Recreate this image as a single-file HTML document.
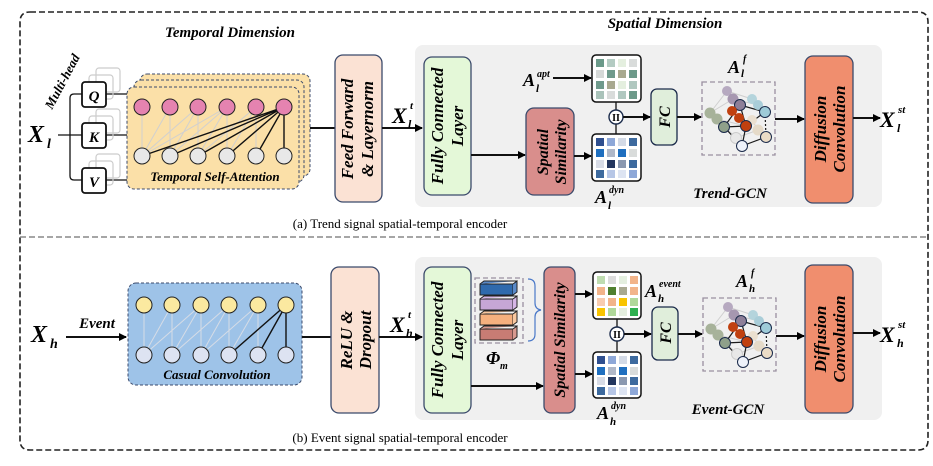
<!DOCTYPE html>
<html><head><meta charset="utf-8"><style>
body{margin:0;background:#fff}
svg{display:block;font-family:"Liberation Serif",serif}
.bi{font-weight:bold;font-style:italic}
.v{font-size:17px}
</style></head><body>
<svg width="933" height="466" viewBox="0 0 933 466" xmlns="http://www.w3.org/2000/svg">
<defs>
<marker id="ar" markerWidth="8" markerHeight="8" refX="7" refY="4" orient="auto" markerUnits="userSpaceOnUse"><path d="M0,0 L8,4 L0,8 Z" fill="#000"/></marker>
<g id="graph">
<rect x="702" y="82" width="73" height="73" fill="none" stroke="#9a8fa0" stroke-width="1.3" stroke-dasharray="5,3"/>
<g stroke="#cfcfcf" stroke-width="1" fill="none">
<path d="M727,91 L752,99 M710,113 L733,99 M710,113 L736,138 M717,119 L746,126 M727,91 L740,105 M733,99 L758,105 M752,120 L758,130 M736,138 L758,130 M717,119 L736,138 M710,113 L727,91 M752,99 L765,112"/>
</g>
<g stroke="#1a1a1a" stroke-width="1.2" fill="none">
<path d="M740,105 L765,112 M740,105 L724,127 M740,105 L746,126 M765,112 L746,126 M724,127 L746,126 M746,126 L742,146 M766,137 L742,146 M724,127 L742,146 M732,111 L739,118"/>
<path d="M765,112 L766,137" stroke-dasharray="2,2"/>
</g>
<g stroke-width="1">
<circle cx="727" cy="91" r="5" fill="#b6a9c0" stroke="none"/>
<circle cx="733" cy="99" r="5.5" fill="#a697b0" stroke="none"/>
<circle cx="752" cy="99" r="5" fill="#b4d4dc" stroke="none"/>
<circle cx="758" cy="105" r="5" fill="#a9cdd8" stroke="none"/>
<circle cx="710" cy="113" r="5.5" fill="#a7b29a" stroke="none"/>
<circle cx="717" cy="119" r="5.5" fill="#a7b29a" stroke="none"/>
<circle cx="752" cy="120" r="5" fill="#eadfcf" stroke="none"/>
<circle cx="758" cy="130" r="5.5" fill="#e5dac8" stroke="none"/>
<circle cx="736" cy="138" r="5.5" fill="#e8e8e8" stroke="#ccc"/>
<circle cx="740" cy="105" r="5.5" fill="#8e7f98" stroke="#1a2a4a"/>
<circle cx="765" cy="112" r="5.5" fill="#9ecbd8" stroke="#1a2a4a"/>
<circle cx="732" cy="111" r="5" fill="#c0400f" stroke="none"/>
<circle cx="739" cy="118" r="5" fill="#c0400f" stroke="none"/>
<circle cx="724" cy="127" r="5.5" fill="#8fa08a" stroke="#1a2a4a"/>
<circle cx="746" cy="126" r="5.5" fill="#c0400f" stroke="#1a2a4a"/>
<circle cx="766" cy="137" r="5.5" fill="#ebdcc6" stroke="#1a2a4a"/>
<circle cx="742" cy="146" r="5.5" fill="#eef2fa" stroke="#1a2a4a"/>
</g>
</g>
</defs>

<path d="M30,12 L918,12 Q928,12 928,22 L928,440 Q928,450 918,450 L30,450 Q20,450 20,440 L20,22 Q20,12 30,12" fill="none" stroke="#222" stroke-width="1.6" stroke-dasharray="6,3"/>
<line x1="20" y1="237" x2="928" y2="237" stroke="#888" stroke-width="1.4" stroke-dasharray="6,3"/>

<text x="230" y="37" font-size="15" class="bi" text-anchor="middle">Temporal  Dimension</text>
<text x="665" y="28" font-size="15" class="bi" text-anchor="middle">Spatial Dimension</text>

<rect x="415" y="45" width="467" height="162" rx="8" fill="#f0f0f0"/>

<text x="28" y="142" font-size="24" class="bi">X</text><text x="47" y="148" font-size="14" class="bi">l</text>
<text x="52" y="110" font-size="13" class="bi" transform="rotate(-62 52 110)">Multi-head</text>
<g stroke="#111" stroke-width="1.3" fill="none">
<path d="M58,135 L82,135 M82,94 L74,94 Q70,94 70,98 L70,176 Q70,180 74,180 L82,180"/>
<path d="M106,94 L128,94 M106,135 L128,135 M106,180 L128,180"/>
</g>
<g fill="none" stroke="#ccc" stroke-width="1.2">
<rect x="96" y="68" width="24" height="24" rx="3"/><rect x="89" y="75" width="24" height="24" rx="3"/>
<rect x="96" y="109" width="24" height="24" rx="3"/><rect x="89" y="116" width="24" height="24" rx="3"/>
<rect x="96" y="154" width="24" height="24" rx="3"/><rect x="89" y="161" width="24" height="24" rx="3"/>
</g>
<g fill="#fff" stroke="#111" stroke-width="1.8">
<rect x="82" y="82" width="24" height="25" rx="3"/>
<rect x="82" y="123" width="24" height="25" rx="3"/>
<rect x="82" y="168" width="24" height="25" rx="3"/>
</g>
<text x="94" y="101" font-size="15" class="bi" text-anchor="middle">Q</text>
<text x="94" y="142" font-size="15" class="bi" text-anchor="middle">K</text>
<text x="94" y="187" font-size="15" class="bi" text-anchor="middle">V</text>

<g fill="#fbe0a8" stroke="#3b4a6b" stroke-width="1" stroke-dasharray="3,2">
<rect x="140" y="74" width="170" height="102" rx="7"/>
<rect x="134" y="80" width="170" height="102" rx="7"/>
<rect x="127" y="87" width="172" height="102" rx="7"/>
</g>
<g stroke="#d0d0d0" stroke-width="1">
<path d="M142,156 L142,107 M142,156 L170,107 M142,156 L198,107 M170,156 L170,107 M170,156 L198,107 M170,156 L227,107 M198,156 L198,107 M198,156 L227,107 M198,156 L256,107 M227,156 L227,107 M227,156 L256,107 M256,156 L256,107 M142,156 L227,107"/>
</g>
<g stroke="#111" stroke-width="1.4">
<path d="M284,107 L142,156 M284,107 L170,156 M284,107 L198,156 M284,107 L227,156 M284,107 L256,156 M284,107 L284,156"/>
</g>
<g fill="#e583b0" stroke="#222" stroke-width="1">
<circle cx="142" cy="107" r="8"/><circle cx="170" cy="107" r="8"/><circle cx="198" cy="107" r="8"/><circle cx="227" cy="107" r="8"/><circle cx="256" cy="107" r="8"/><circle cx="284" cy="107" r="8"/>
</g>
<g fill="#e8e8e8" stroke="#222" stroke-width="1">
<circle cx="142" cy="156" r="8"/><circle cx="170" cy="156" r="8"/><circle cx="198" cy="156" r="8"/><circle cx="227" cy="156" r="8"/><circle cx="256" cy="156" r="8"/><circle cx="284" cy="156" r="8"/>
</g>
<text x="215" y="181" font-size="13" class="bi" text-anchor="middle">Temporal Self-Attention</text>

<line x1="310" y1="128" x2="335" y2="128" stroke="#111" stroke-width="2"/>
<rect x="335" y="55" width="47" height="147" rx="8" fill="#fbe2d4" stroke="#3b4a6b" stroke-width="1.3"/>
<text transform="translate(353,129) rotate(-90)" class="bi v" text-anchor="middle">Feed Forward</text>
<text transform="translate(373,129) rotate(-90)" class="bi v" text-anchor="middle">&amp; Layernorm</text>
<line x1="382" y1="128" x2="422" y2="128" stroke="#111" stroke-width="2" marker-end="url(#ar)"/>
<text x="392" y="123" font-size="22" class="bi">X</text><text x="410" y="109" font-size="11" class="bi">t</text><text x="408" y="128" font-size="12" class="bi">l</text>

<rect x="424" y="57" width="47" height="138" rx="8" fill="#e4f8d8" stroke="#3b4a6b" stroke-width="1.3"/>
<text transform="translate(443,126) rotate(-90)" class="bi v" text-anchor="middle">Fully Connected</text>
<text transform="translate(463,126) rotate(-90)" class="bi v" text-anchor="middle">Layer</text>
<line x1="471" y1="155" x2="525" y2="155" stroke="#111" stroke-width="2" marker-end="url(#ar)"/>
<rect x="526" y="108" width="48" height="87" rx="8" fill="#d98e8c" stroke="#3b4a6b" stroke-width="1.3"/>
<text transform="translate(548,152) rotate(-90)" font-size="16" class="bi" text-anchor="middle">Spatial</text>
<text transform="translate(566,152) rotate(-90)" font-size="16" class="bi" text-anchor="middle">Similarity</text>
<line x1="574" y1="156" x2="591" y2="156" stroke="#111" stroke-width="2" marker-end="url(#ar)"/>

<text x="523" y="86" font-size="18" class="bi">A</text><text x="537" y="77" font-size="10" class="bi">apt</text><text x="536" y="92" font-size="11" class="bi">l</text>
<line x1="553" y1="78" x2="591" y2="78" stroke="#111" stroke-width="2" marker-end="url(#ar)"/>

<rect x="592" y="55" width="49" height="47" rx="4" fill="#fff" stroke="#111" stroke-width="1.5"/>
<g>
<rect x="596" y="59" width="8" height="8" fill="#6b9a8a"/><rect x="607" y="59" width="8" height="8" fill="#b3cbc2"/><rect x="618" y="59" width="8" height="8" fill="#e4efdf"/><rect x="629" y="59" width="8" height="8" fill="#d9dcdb"/>
<rect x="596" y="70" width="8" height="8" fill="#d6d9d8"/><rect x="607" y="70" width="8" height="8" fill="#6f9a8c"/><rect x="618" y="70" width="8" height="8" fill="#a8a98f"/><rect x="629" y="70" width="8" height="8" fill="#6d9a8a"/>
<rect x="596" y="81" width="8" height="8" fill="#6f9a8c"/><rect x="607" y="81" width="8" height="8" fill="#a8a990"/><rect x="618" y="81" width="8" height="8" fill="#e4efdf"/><rect x="629" y="81" width="8" height="8" fill="#b0c8c0"/>
<rect x="596" y="91" width="8" height="8" fill="#aac3ba"/><rect x="607" y="91" width="8" height="8" fill="#d9dcdb"/><rect x="618" y="91" width="8" height="8" fill="#b0c8c0"/><rect x="629" y="91" width="8" height="8" fill="#6d9a8a"/>
</g>
<line x1="616" y1="102" x2="616" y2="134" stroke="#111" stroke-width="1.3"/>
<rect x="592" y="134" width="49" height="47" rx="4" fill="#fff" stroke="#111" stroke-width="1.5"/>
<g>
<rect x="596" y="138" width="8" height="8" fill="#2f4f8f"/><rect x="607" y="138" width="8" height="8" fill="#8ea8d8"/><rect x="618" y="138" width="8" height="8" fill="#d3dae6"/><rect x="629" y="138" width="8" height="8" fill="#3d6a9e"/>
<rect x="596" y="149" width="8" height="8" fill="#1f6fbf"/><rect x="607" y="149" width="8" height="8" fill="#b0b8c8"/><rect x="618" y="149" width="8" height="8" fill="#1f6fbf"/><rect x="629" y="149" width="8" height="8" fill="#d9dcdb"/>
<rect x="596" y="160" width="8" height="8" fill="#d8dce6"/><rect x="607" y="160" width="8" height="8" fill="#23365e"/><rect x="618" y="160" width="8" height="8" fill="#8a98b0"/><rect x="629" y="160" width="8" height="8" fill="#3d6a9e"/>
<rect x="596" y="170" width="8" height="8" fill="#3d6a9e"/><rect x="607" y="170" width="8" height="8" fill="#b6c6e6"/><rect x="618" y="170" width="8" height="8" fill="#dde4f2"/><rect x="629" y="170" width="8" height="8" fill="#8ea8d8"/>
</g>
<circle cx="616" cy="117" r="7" fill="#fff" stroke="#1a2a4a" stroke-width="1.4"/>
<text x="616" y="121" font-size="10" font-weight="bold" text-anchor="middle">II</text>
<line x1="623" y1="117" x2="650" y2="117" stroke="#111" stroke-width="2" marker-end="url(#ar)"/>
<text x="595" y="203" font-size="18" class="bi">A</text><text x="609" y="193" font-size="10" class="bi">dyn</text><text x="608" y="209" font-size="11" class="bi">l</text>

<rect x="651" y="89" width="26" height="56" rx="6" fill="#e0eedb" stroke="#1a2a4a" stroke-width="1.3"/>
<text transform="translate(670,117) rotate(-90)" font-size="16" class="bi" text-anchor="middle">FC</text>
<line x1="677" y1="117" x2="701" y2="117" stroke="#111" stroke-width="2" marker-end="url(#ar)"/>
<use href="#graph"/>
<text x="728" y="73" font-size="18" class="bi">A</text><text x="743" y="62" font-size="10" class="bi">f</text><text x="741" y="77" font-size="11" class="bi">l</text>
<line x1="775" y1="119" x2="804" y2="119" stroke="#111" stroke-width="2" marker-end="url(#ar)"/>
<text x="730" y="198" font-size="15" class="bi" text-anchor="middle">Trend-GCN</text>

<rect x="805" y="56" width="48" height="147" rx="8" fill="#f08e6e" stroke="#3b4a6b" stroke-width="1.3"/>
<text transform="translate(826,129) rotate(-90)" class="bi v" text-anchor="middle">Diffusion</text>
<text transform="translate(845,129) rotate(-90)" class="bi v" text-anchor="middle">Convolution</text>
<line x1="853" y1="118" x2="880" y2="118" stroke="#111" stroke-width="2" marker-end="url(#ar)"/>
<text x="880" y="127" font-size="22" class="bi">X</text><text x="898" y="113" font-size="11" class="bi">st</text><text x="897" y="132" font-size="12" class="bi">l</text>

<text x="400" y="228" font-size="13" text-anchor="middle">(a) Trend signal spatial-temporal encoder</text>

<rect x="415" y="257" width="467" height="163" rx="8" fill="#f0f0f0"/>
<text x="31" y="342" font-size="24" class="bi">X</text><text x="50" y="348" font-size="14" class="bi">h</text>
<text x="97" y="328" font-size="15" class="bi" text-anchor="middle">Event</text>
<line x1="66" y1="337" x2="126" y2="337" stroke="#111" stroke-width="2" marker-end="url(#ar)"/>

<rect x="128" y="283" width="174" height="102" rx="8" fill="#9ec3e8" stroke="#3b4a6b" stroke-width="1" stroke-dasharray="3,2"/>
<g stroke="#d6dce6" stroke-width="1">
<path d="M144,355 L144,305 M144,355 L172,305 M144,355 L201,305 M172,355 L172,305 M172,355 L201,305 M172,355 L229,305 M201,355 L201,305 M201,355 L229,305 M201,355 L258,305 M229,355 L229,305 M229,355 L258,305 M258,355 L258,305"/>
</g>
<g stroke="#111" stroke-width="1.4"><path d="M286,305 L229,355 M286,305 L258,355 M286,305 L286,355"/></g>
<g fill="#fbe9a0" stroke="#222" stroke-width="1">
<circle cx="144" cy="305" r="8"/><circle cx="172" cy="305" r="8"/><circle cx="201" cy="305" r="8"/><circle cx="229" cy="305" r="8"/><circle cx="258" cy="305" r="8"/><circle cx="286" cy="305" r="8"/>
</g>
<g fill="#dde3f2" stroke="#222" stroke-width="1">
<circle cx="144" cy="355" r="8"/><circle cx="172" cy="355" r="8"/><circle cx="201" cy="355" r="8"/><circle cx="229" cy="355" r="8"/><circle cx="258" cy="355" r="8"/><circle cx="286" cy="355" r="8"/>
</g>
<text x="217" y="379" font-size="13" class="bi" text-anchor="middle">Casual Convolution</text>

<line x1="302" y1="337" x2="331" y2="337" stroke="#111" stroke-width="2"/>
<rect x="331" y="267" width="48" height="146" rx="8" fill="#fbe2d4" stroke="#3b4a6b" stroke-width="1.3"/>
<text transform="translate(352,340) rotate(-90)" class="bi v" text-anchor="middle">ReLU &amp;</text>
<text transform="translate(371,340) rotate(-90)" class="bi v" text-anchor="middle">Dropout</text>
<line x1="379" y1="337" x2="422" y2="337" stroke="#111" stroke-width="2" marker-end="url(#ar)"/>
<text x="390" y="332" font-size="22" class="bi">X</text><text x="408" y="318" font-size="11" class="bi">t</text><text x="406" y="337" font-size="12" class="bi">h</text>

<rect x="424" y="267" width="47" height="146" rx="8" fill="#e4f8d8" stroke="#3b4a6b" stroke-width="1.3"/>
<text transform="translate(443,340) rotate(-90)" class="bi v" text-anchor="middle">Fully Connected</text>
<text transform="translate(463,340) rotate(-90)" class="bi v" text-anchor="middle">Layer</text>
<line x1="471" y1="386" x2="543" y2="386" stroke="#111" stroke-width="2" marker-end="url(#ar)"/>

<rect x="475" y="278" width="48" height="65" fill="none" stroke="#9a8fa0" stroke-width="1.3" stroke-dasharray="5,3"/>
<g stroke="#222" stroke-width="1">
<rect x="480" y="284" width="33" height="11" fill="#2f6aad"/><path d="M513,284 L517,281 L517,292 L513,295 M480,284 L484,281 L517,281" fill="#5a8ac8"/>
<rect x="480" y="299" width="33" height="11" fill="#c6a6d6"/><path d="M513,299 L517,296 L517,307 L513,310 M480,299 L484,296 L517,296" fill="#d6b6e6"/>
<rect x="480" y="314" width="33" height="11" fill="#f5b07e"/><path d="M513,314 L517,311 L517,322 L513,325 M480,314 L484,311 L517,311" fill="#f8c8a0"/>
<rect x="480" y="329" width="33" height="11" fill="#c87c74"/><path d="M513,329 L517,326 L517,337 L513,340 M480,329 L484,326 L517,326" fill="#d89a90"/>
</g>
<path d="M528,279 Q535,279 535,286 L535,303 Q535,309 541,310 Q535,311 535,317 L535,334 Q535,341 528,341" fill="none" stroke="#4a78c8" stroke-width="1.2"/>
<text x="486" y="364" font-size="18" class="bi">Φ</text><text x="500" y="369" font-size="10" class="bi">m</text>

<rect x="544" y="267" width="31" height="146" rx="7" fill="#d98e8c" stroke="#3b4a6b" stroke-width="1.3"/>
<text transform="translate(565,340) rotate(-90)" font-size="16" class="bi" text-anchor="middle">Spatial Similarity</text>
<line x1="575" y1="294" x2="592" y2="294" stroke="#111" stroke-width="2" marker-end="url(#ar)"/>
<line x1="575" y1="374" x2="592" y2="374" stroke="#111" stroke-width="2" marker-end="url(#ar)"/>

<rect x="593" y="272" width="48" height="47" rx="4" fill="#fff" stroke="#111" stroke-width="1.5"/>
<g>
<rect x="597" y="276" width="8" height="8" fill="#bfdcb0"/><rect x="608" y="276" width="8" height="8" fill="#dcdcdc"/><rect x="619" y="276" width="8" height="8" fill="#e4efdf"/><rect x="630" y="276" width="8" height="8" fill="#f2b48a"/>
<rect x="597" y="287" width="8" height="8" fill="#f2b48a"/><rect x="608" y="287" width="8" height="8" fill="#4f7f2f"/><rect x="619" y="287" width="8" height="8" fill="#a8a990"/><rect x="630" y="287" width="8" height="8" fill="#f2b48a"/>
<rect x="597" y="298" width="8" height="8" fill="#f8ccb0"/><rect x="608" y="298" width="8" height="8" fill="#f2b48a"/><rect x="619" y="298" width="8" height="8" fill="#f8c400"/><rect x="630" y="298" width="8" height="8" fill="#b0d89a"/>
<rect x="597" y="308" width="8" height="8" fill="#f8c400"/><rect x="608" y="308" width="8" height="8" fill="#b0d89a"/><rect x="619" y="308" width="8" height="8" fill="#e4efdf"/><rect x="630" y="308" width="8" height="8" fill="#2fb04f"/>
</g>
<line x1="617" y1="319" x2="617" y2="352" stroke="#111" stroke-width="1.3"/>
<rect x="593" y="352" width="48" height="46" rx="4" fill="#fff" stroke="#111" stroke-width="1.5"/>
<g>
<rect x="597" y="356" width="8" height="8" fill="#2f4f8f"/><rect x="608" y="356" width="8" height="8" fill="#8ea8d8"/><rect x="619" y="356" width="8" height="8" fill="#d3dae6"/><rect x="630" y="356" width="8" height="8" fill="#3d6a9e"/>
<rect x="597" y="367" width="8" height="8" fill="#1f6fbf"/><rect x="608" y="367" width="8" height="8" fill="#b0b8c8"/><rect x="619" y="367" width="8" height="8" fill="#1f6fbf"/><rect x="630" y="367" width="8" height="8" fill="#d9dcdb"/>
<rect x="597" y="377" width="8" height="8" fill="#d8dce6"/><rect x="608" y="377" width="8" height="8" fill="#23365e"/><rect x="619" y="377" width="8" height="8" fill="#8a98b0"/><rect x="630" y="377" width="8" height="8" fill="#3d6a9e"/>
<rect x="597" y="387" width="8" height="8" fill="#3d6a9e"/><rect x="608" y="387" width="8" height="8" fill="#b6c6e6"/><rect x="619" y="387" width="8" height="8" fill="#dde4f2"/><rect x="630" y="387" width="8" height="8" fill="#8ea8d8"/>
</g>
<circle cx="617" cy="334" r="7" fill="#fff" stroke="#1a2a4a" stroke-width="1.4"/>
<text x="617" y="338" font-size="10" font-weight="bold" text-anchor="middle">II</text>
<line x1="624" y1="334" x2="651" y2="334" stroke="#111" stroke-width="2" marker-end="url(#ar)"/>
<text x="645" y="297" font-size="18" class="bi">A</text><text x="659" y="287" font-size="10" class="bi">event</text><text x="658" y="302" font-size="11" class="bi">h</text>
<text x="597" y="419" font-size="18" class="bi">A</text><text x="611" y="409" font-size="10" class="bi">dyn</text><text x="610" y="425" font-size="11" class="bi">h</text>

<rect x="652" y="307" width="26" height="53" rx="6" fill="#e0eedb" stroke="#1a2a4a" stroke-width="1.3"/>
<text transform="translate(671,333) rotate(-90)" font-size="16" class="bi" text-anchor="middle">FC</text>
<line x1="678" y1="334" x2="702" y2="334" stroke="#111" stroke-width="2" marker-end="url(#ar)"/>
<use href="#graph" transform="translate(1,216)"/>
<text x="736" y="287" font-size="18" class="bi">A</text><text x="751" y="276" font-size="10" class="bi">f</text><text x="749" y="292" font-size="11" class="bi">h</text>
<line x1="776" y1="336" x2="804" y2="336" stroke="#111" stroke-width="2" marker-end="url(#ar)"/>
<text x="728" y="414" font-size="15" class="bi" text-anchor="middle">Event-GCN</text>

<rect x="805" y="265" width="48" height="148" rx="8" fill="#f08e6e" stroke="#3b4a6b" stroke-width="1.3"/>
<text transform="translate(826,339) rotate(-90)" class="bi v" text-anchor="middle">Diffusion</text>
<text transform="translate(845,339) rotate(-90)" class="bi v" text-anchor="middle">Convolution</text>
<line x1="853" y1="333" x2="880" y2="333" stroke="#111" stroke-width="2" marker-end="url(#ar)"/>
<text x="880" y="342" font-size="22" class="bi">X</text><text x="898" y="328" font-size="11" class="bi">st</text><text x="897" y="347" font-size="12" class="bi">h</text>

<text x="400" y="442" font-size="13" text-anchor="middle">(b) Event signal spatial-temporal encoder</text>
</svg>
</body></html>
